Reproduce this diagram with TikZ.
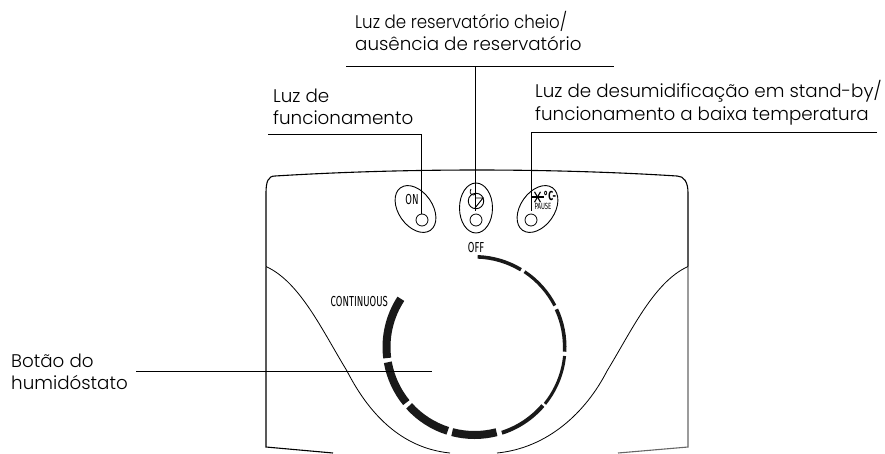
\documentclass[tikz,border=0pt]{standalone}
\usepackage{fontspec}
\setmainfont{Poppins Light}
\newfontfamily\narrowfont[FakeStretch=0.66]{Fira Sans}
\begin{document}
\begin{tikzpicture}[x=1pt,y=1pt]
  \tikzstyle{label}=[anchor=base west,inner sep=0pt,align=left,font=\fontsize{18.3}{22.5}\selectfont]
  \tikzstyle{leader}=[draw,line width=1pt]
  \tikzstyle{body}=[draw,line width=1.1pt]
  \tikzstyle{curve}=[draw,line width=0.8pt]
  \tikzstyle{panel}=[draw,line width=0.9pt]
  \tikzstyle{led}=[circle,draw,line width=0.8pt,minimum size=12pt,inner sep=0pt]
  \tikzstyle{print}=[inner sep=0pt,font=\fontsize{14.5}{15}\narrowfont\selectfont]
  \useasboundingbox (0,-453) rectangle (885,0);
  % housing
  \draw[body] (266,-266.5) -- (266,-193) .. controls (266,-182) and (268,-176) .. (275,-176)
    .. controls (340,-172) and (410,-170) .. (477,-170)
    .. controls (544,-170) and (614,-172) .. (677,-176)
    .. controls (684,-176) and (688,-182) .. (688,-193) -- (688,-266.5);
  \draw[body] (266,-266.5) -- (266,-447) -- (333,-453);
  \draw[body,black!60] (688,-266.5) -- (688,-447) -- (618,-453);
  \draw[curve] (266,-266.5) .. controls (300,-282) and (322,-330) .. (347,-371)
    .. controls (368,-412) and (400,-448) .. (450,-453);
  \draw[curve] (688,-266.5) .. controls (654,-282) and (632,-330) .. (607,-371)
    .. controls (586,-412) and (548,-448) .. (497,-453);
  % buttons
  \draw[panel,rotate around={35:(415.5,-209)}] (415.5,-209) ellipse (17 and 26);
  \draw[panel] (476,-208) ellipse (16.5 and 25);
  \draw[panel,rotate around={-35:(537.5,-209)}] (537.5,-209) ellipse (17 and 26);
  \node[led] (ledon) at (422,-220) {};
  \node[led] (ledfull) at (476,-220) {};
  \node[led] (ledstandby) at (531,-220) {};
  \node[print] (on) at (412,-199) {ON};
  \node[print] (off) at (476,-247) {OFF};
  \node[print,anchor=east] (continuous) at (388,-301) {CONTINUOUS};
  \node[print,font=\fontsize{9}{10}\narrowfont\selectfont] (pause) at (543,-206) {PAUSE};
  \node[print,font=\fontsize{13}{14}\narrowfont\bfseries\selectfont] (degree) at (550,-195.5) {°C-};
  % frost symbol
  \coordinate (frost) at (537.5,-197);
  \foreach \a in {0,60,120}
    \draw[line width=1.1pt] ([shift={(\a:6)}]frost) -- ([shift={(\a+180:6)}]frost);
  % tank symbol
  \node[circle,draw,line width=0.9pt,minimum size=15.5pt,inner sep=0pt] (tank) at (476,-201) {};
  \draw[line width=0.8pt] (471,-189) .. controls (468,-195) and (474,-197) .. (476,-193);
  \draw[line width=0.9pt] (475,-198) -- (483,-198) -- (475,-208);
  % dial
  \coordinate (dial) at (474.5,-347);
  \foreach \a/\b/\w/\r in {88/59/3.6/90.2, 56.4/27.3/3.2/90.4, 24.7/-3/3.6/90.2, -5.7/-38.9/3/90.5,
    -40.6/-72.3/4/90, -75.5/-104.7/8/88, -107.7/-138/8/88, -140.8/-170/8/88, 187.2/146.8/8/88}
    \draw[line width=\w pt,black!90] ([shift={(\a:\r)}]dial) arc[start angle=\a,end angle=\b,radius=\r];
  % labels
  \node[label] (lfull) at (355,-28) {\scalebox{0.91}[1]{Luz de reservatório cheio/}};
  \node[label] (lfull2) at (355,-50) {ausência de reservatório};
  \node[label] (lon) at (273,-102) {Luz de};
  \node[label] (lon2) at (273,-124) {funcionamento};
  \node[label] (lstandby) at (535,-97) {Luz de desumidificação em stand-by/};
  \node[label] (lstandby2) at (535,-120) {funcionamento a baixa temperatura};
  \node[label] (lknob) at (11,-367) {Botão do};
  \node[label] (lknob2) at (11,-389) {humidóstato};
  % leaders
  \coordinate (onstart) at (268,-134);
  \coordinate (oncorner) at (421.5,-134);
  \coordinate (fullleft) at (346,-66);
  \coordinate (fullright) at (614,-66);
  \coordinate (fulljoin) at (475,-66);
  \coordinate (fullend) at (475,-211);
  \coordinate (standbycorner) at (531,-132);
  \coordinate (standbyend) at (531,-211);
  \coordinate (standbyright) at (877,-132);
  \coordinate (knobstart) at (136,-371.5);
  \coordinate (knobend) at (432,-371.5);
  \draw[leader] (onstart) -- (oncorner) -- (ledon.north -| oncorner);
  \draw[leader] (fullleft) -- (fullright);
  \draw[leader] (fulljoin) -- (fullend);
  \draw[leader] (standbyright) -- (standbycorner) -- (standbyend);
  \draw[leader] (knobstart) -- (knobend);
\end{tikzpicture}
\end{document}
